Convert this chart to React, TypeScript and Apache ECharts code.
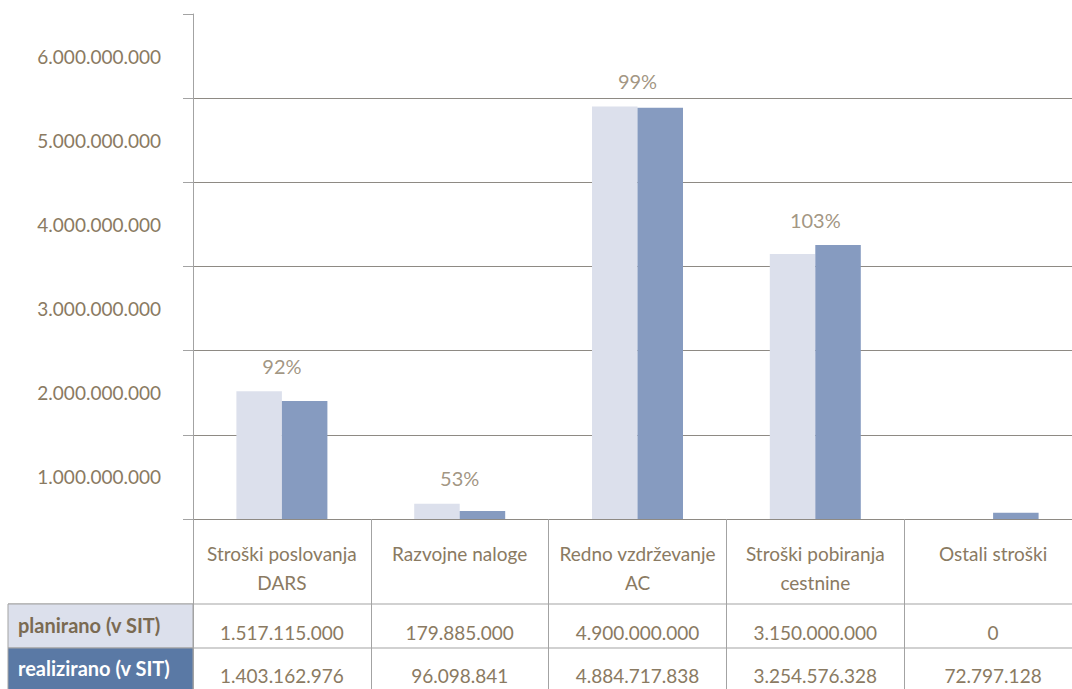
import React, { useEffect, useRef } from "react";
import * as echarts from "echarts";

const categories = [
  "Stroški poslovanja\nDARS",
  "Razvojne naloge",
  "Redno vzdrževanje\nAC",
  "Stroški pobiranja\ncestnine",
  "Ostali stroški",
];
const seriesNames = ["planirano (v SIT)", "realizirano (v SIT)"];
const planned = [1517115000, 179885000, 4900000000, 3150000000, 0];
const realized = [1403162976, 96098841, 4884717838, 3254576328, 72797128];
const percents = ["92%", "53%", "99%", "103%", ""];
const yMin = 0;
const yMax = 6000000000;
const yInterval = 1000000000;

const TEXT = "#8a7a62";
const FONT = "Lato";
const fmt = (n: number) => String(Math.round(n)).replace(/\B(?=(\d{3})+(?!\d))/g, ".");

export default function App() {
  const ref = useRef<HTMLDivElement>(null);
  useEffect(() => {
    if (!ref.current) return;
    const chart = echarts.init(ref.current, undefined, { renderer: "svg" });
    const tableLine = "#a3a3a3";
    const half = yInterval / 2;
    chart.setOption({
      animation: false,
      textStyle: { fontFamily: FONT },
      grid: { left: 193, right: 0, top: 14, bottom: 170, containLabel: false },
      xAxis: [
        {
          type: "category",
          data: categories,
          position: "bottom",
          axisLine: { show: true, lineStyle: { color: "#8e8a84", width: 1 } },
          axisTick: { show: true, interval: 0, length: 170, lineStyle: { color: tableLine } },
          axisLabel: {
            interval: 0,
            color: TEXT,
            fontSize: 19,
            lineHeight: 29,
            margin: 20,
            fontFamily: FONT,
          },
        },
        {
          type: "category",
          data: planned.map(fmt),
          position: "bottom",
          offset: 0,
          axisLine: { show: false },
          axisTick: { show: false },
          axisLabel: { interval: 0, color: TEXT, fontSize: 19, lineHeight: 22, margin: 102, fontFamily: FONT },
        },
        {
          type: "category",
          data: realized.map(fmt),
          position: "bottom",
          offset: 0,
          axisLine: { show: false },
          axisTick: { show: false },
          axisLabel: { interval: 0, color: TEXT, fontSize: 19, lineHeight: 22, margin: 145, fontFamily: FONT },
        },
      ],
      yAxis: [
        {
          type: "value",
          min: yMin,
          max: yMax,
          interval: yInterval,
          axisLine: { show: true, lineStyle: { color: "#a3a3a3" } },
          axisTick: { show: true, length: 10, lineStyle: { color: "#a3a3a3" } },
          splitLine: { show: true, showMaxLine: false, lineStyle: { color: "#8e8a84" } },
          axisLabel: { show: false },
        },
        {
          // label-only axis: the reference prints each value half a step below its gridline
          type: "value",
          position: "left",
          offset: 0,
          min: yMin + half,
          max: yMax + half,
          interval: half,
          axisLine: { show: false },
          axisTick: { show: false },
          splitLine: { show: false },
          axisLabel: {
            color: TEXT,
            fontSize: 19,
            fontFamily: FONT,
            margin: 32,
            formatter: (v: number) => (Math.round(v) % yInterval === 0 && v <= yMax ? fmt(v) : ""),
          },
        },
      ],
      series: [
        {
          name: seriesNames[0],
          type: "bar",
          xAxisIndex: 0,
          yAxisIndex: 0,
          data: planned,
          barWidth: 45.5,
          barGap: "0%",
          itemStyle: { color: "#dce0ec" },
        },
        {
          name: seriesNames[1],
          type: "bar",
          xAxisIndex: 0,
          yAxisIndex: 0,
          data: realized,
          barWidth: 45.5,
          itemStyle: { color: "#869bc0" },
        },
        {
          type: "scatter",
          xAxisIndex: 0,
          yAxisIndex: 0,
          data: categories.map((_, i) => Math.max(planned[i], realized[i])),
          symbolSize: 1,
          itemStyle: { color: "rgba(0,0,0,0)" },
          label: {
            show: true,
            position: "top",
            distance: 15,
            color: TEXT,
            fontSize: 20,
            fontFamily: FONT,
            formatter: (p: any) => percents[p.dataIndex],
          },
          z: 5,
        },
      ],
      graphic: [
        { type: "line", shape: { x1: 8, y1: 604, x2: 1090, y2: 604 }, style: { stroke: tableLine, lineWidth: 1 } },
        { type: "line", shape: { x1: 8, y1: 648, x2: 1090, y2: 648 }, style: { stroke: tableLine, lineWidth: 1 } },
        { type: "rect", shape: { x: 8, y: 604, width: 185, height: 44 }, style: { fill: "#dce0ec", stroke: tableLine, lineWidth: 1 } },
        { type: "rect", shape: { x: 8, y: 648, width: 185, height: 50 }, style: { fill: "#5a79a5", stroke: tableLine, lineWidth: 1 } },
        {
          type: "text",
          x: 18,
          y: 625,
          style: { text: seriesNames[0], fill: "#7a6a52", font: `bold 20px ${FONT}`, verticalAlign: "middle", align: "left" },
        },
        {
          type: "text",
          x: 18,
          y: 668,
          style: { text: seriesNames[1], fill: "#ffffff", font: `bold 20px ${FONT}`, verticalAlign: "middle", align: "left" },
        },
      ],
    });
    return () => chart.dispose();
  }, []);
  return (
    <div style={{ position: "fixed", left: 0, top: 0, width: 1072, height: 689, overflow: "hidden", background: "#fff" }}>
      <div ref={ref} style={{ width: 1082, height: 689 }} />
    </div>
  );
}
